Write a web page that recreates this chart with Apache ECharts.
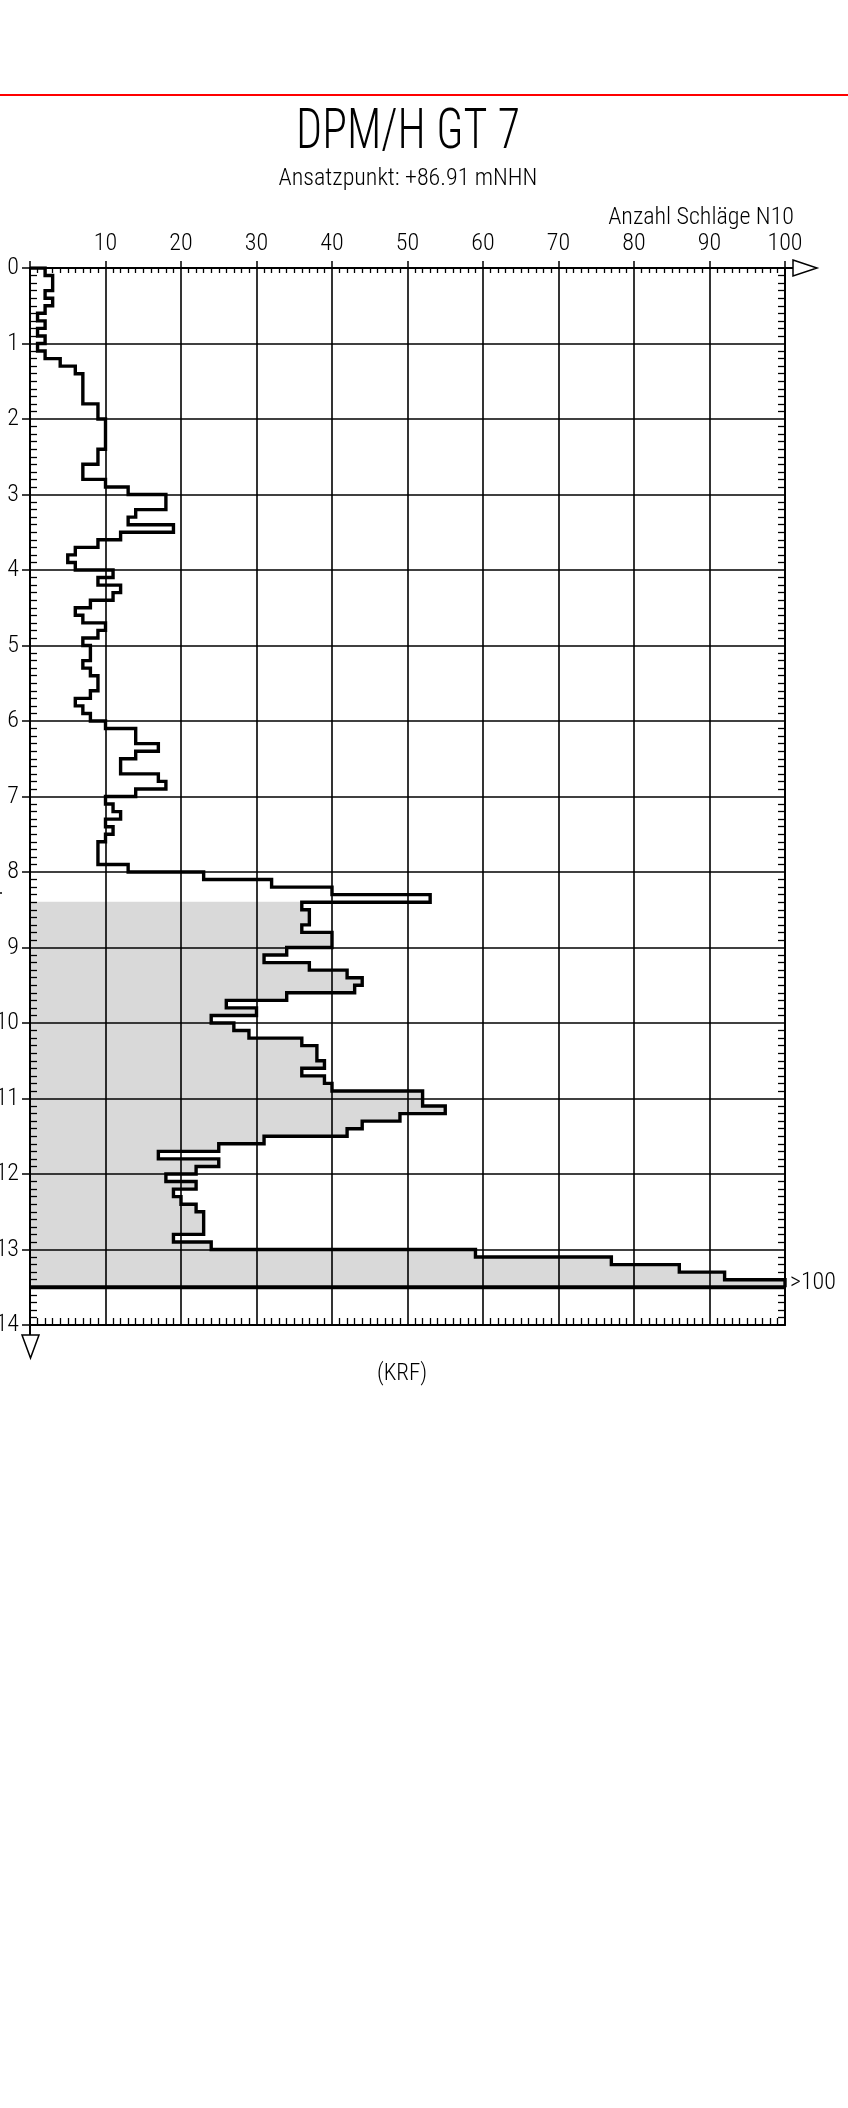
<!DOCTYPE html>
<html>
<head>
<meta charset="utf-8">
<script src="https://cdn.jsdelivr.net/npm/echarts@6/dist/echarts.min.js"></script>
<style>
  * { margin: 0; padding: 0; box-sizing: border-box; }
  html, body { width: 848px; height: 2108px; background: #fff; }
  #chart { width: 848px; height: 2108px; }
</style>
</head>
<body>
<div id="chart"></div>
<script>
  // Schlagzahlen N10 je 0,1 m ab Ansatzpunkt (0,0 m)
  const step = 0.1;
  const blows = [
    2, 3, 3, 2, 3, 2, 1, 2, 1, 2,          // 0 - 1 m
    1, 2, 4, 6, 7, 7, 7, 7, 9, 9,          // 1 - 2 m
    10, 10, 10, 10, 9, 9, 7, 7, 10, 13,    // 2 - 3 m
    18, 18, 14, 13, 19, 12, 9, 6, 5, 6,    // 3 - 4 m
    11, 9, 12, 11, 8, 6, 7, 10, 9, 7,      // 4 - 5 m
    8, 8, 7, 8, 9, 9, 8, 6, 7, 8,          // 5 - 6 m
    10, 14, 14, 17, 14, 12, 12, 17, 18, 14, // 6 - 7 m
    10, 11, 12, 10, 11, 10, 9, 9, 9, 13,   // 7 - 8 m
    23, 32, 40, 53, 36, 37, 37, 36, 40, 40, // 8 - 9 m
    34, 31, 37, 42, 44, 43, 34, 26, 30, 24, // 9 - 10 m
    27, 29, 36, 38, 38, 39, 36, 39, 40, 52, // 10 - 11 m
    52, 55, 49, 44, 42, 31, 25, 17, 25, 22, // 11 - 12 m
    18, 22, 19, 20, 22, 23, 23, 23, 19, 24, // 12 - 13 m
    59, 77, 86, 92, 100                    // 13 - 13,5 m
  ];
  const fillFrom = 8.4;   // grau hinterlegt ab
  const endDepth = 13.5;  // Endteufe
  const xLabels = ['', '10', '20', '30', '40', '50', '60', '70', '80', '90', '100'];
  const yLabels = ['0', '1', '2', '3', '4', '5', '6', '7', '8', '9', '10', '11', '12', '13', '14'];

  const FONT = "'Roboto Condensed', 'DejaVu Sans Condensed', sans-serif";

  // Treppenlinie
  const linePts = [[0, 0]];
  const fillData = [];
  blows.forEach(function (v, i) {
    const top = +(i * step).toFixed(1);
    const bot = +(top + step).toFixed(1);
    linePts.push([v, top], [v, bot]);
    if (top >= fillFrom - 1e-6) fillData.push([v, top]);
  });

  const myChart = echarts.init(document.getElementById('chart'), null, { renderer: 'canvas' });

  const baseX = { type: 'value', min: 0, max: 100, interval: 10, z: 1 };
  const baseY = { type: 'value', min: 0, max: 14, interval: 1, inverse: true, z: 1 };
  const noLine = { show: false, onZero: false };
  const labelFont = { color: '#000', fontFamily: FONT, fontWeight: 300, fontSize: 24 };

  const option = {
    animation: false,
    backgroundColor: '#fff',
    grid: { left: 30, top: 268, width: 755, height: 1057, containLabel: false, outerBoundsMode: 'none' },
    xAxis: [
      Object.assign({}, baseX, {
        position: 'top',
        axisLine: { show: true, onZero: false, lineStyle: { color: '#000', width: 2 } },
        axisTick: { show: true, length: 7, lineStyle: { color: '#000', width: 1.5 } },
        axisLabel: Object.assign({
          margin: 12,
          formatter: function (v) { return xLabels[Math.round(v / 10)]; }
        }, labelFont),
        splitLine: { show: true, lineStyle: { color: '#000', width: 1.6 } }
      }),
      Object.assign({}, baseX, {
        position: 'top',
        axisLine: noLine,
        axisTick: { show: false, inside: true },
        axisLabel: { show: false },
        splitLine: { show: false },
        minorTick: { show: true, splitNumber: 10, length: 5, lineStyle: { color: '#000', width: 1.3 } }
      }),
      Object.assign({}, baseX, {
        position: 'bottom',
        axisLine: { show: true, onZero: false, lineStyle: { color: '#000', width: 2 } },
        axisTick: { show: false, inside: true },
        axisLabel: { show: false },
        splitLine: { show: false },
        minorTick: { show: true, splitNumber: 10, length: 7, lineStyle: { color: '#000', width: 1.3 } }
      })
    ],
    yAxis: [
      Object.assign({}, baseY, {
        position: 'left',
        axisLine: { show: true, onZero: false, lineStyle: { color: '#000', width: 2 } },
        axisTick: { show: true, length: 8, lineStyle: { color: '#000', width: 1.5 } },
        axisLabel: Object.assign({
          margin: 11,
          formatter: function (v) { return yLabels[Math.round(v)]; }
        }, labelFont),
        splitLine: { show: true, lineStyle: { color: '#000', width: 1.6 } }
      }),
      Object.assign({}, baseY, {
        position: 'left',
        axisLine: noLine,
        axisTick: { show: false, inside: true },
        axisLabel: { show: false },
        splitLine: { show: false },
        minorTick: { show: true, splitNumber: 10, length: 7, lineStyle: { color: '#000', width: 1.3 } }
      }),
      Object.assign({}, baseY, {
        position: 'right',
        axisLine: { show: true, onZero: false, lineStyle: { color: '#000', width: 2 } },
        axisTick: { show: false, inside: true },
        axisLabel: { show: false },
        splitLine: { show: false },
        minorTick: { show: true, splitNumber: 10, length: 7, lineStyle: { color: '#000', width: 1.3 } }
      })
    ],
    series: [
      {
        // grauer Bereich links der Kurve
        type: 'custom',
        xAxisIndex: 0, yAxisIndex: 0, z: 0, silent: true,
        renderItem: function (params, api) {
          const v = api.value(0), d = api.value(1);
          const a = api.coord([0, d]);
          const b = api.coord([v, d + step]);
          return {
            type: 'rect',
            shape: { x: a[0], y: a[1] - 0.4, width: b[0] - a[0], height: b[1] - a[1] + 0.8 },
            style: { fill: '#d9d9d9' }
          };
        },
        data: fillData
      },
      {
        type: 'line',
        xAxisIndex: 0, yAxisIndex: 0, z: 3,
        data: linePts,
        symbol: 'none',
        lineStyle: { color: '#000', width: 3.4, join: 'miter' }
      },
      {
        // Endteufe
        type: 'line',
        xAxisIndex: 0, yAxisIndex: 0, z: 3,
        data: [[0, endDepth], [100, endDepth]],
        symbol: 'none',
        lineStyle: { color: '#000', width: 4 }
      }
    ],
    graphic: [
      { type: 'line', shape: { x1: 0, y1: 95, x2: 848, y2: 95 }, style: { stroke: '#ff0000', lineWidth: 2 } },
      { type: 'text', x: 408, y: 162, scaleX: 0.82,
        style: { text: 'DPM/H GT 7', x: 0, y: 0, align: 'center', verticalAlign: 'bottom', fontFamily: FONT, fontWeight: 300, fontSize: 56, fill: '#000' } },
      { type: 'text', x: 408, y: 191,
        style: { text: 'Ansatzpunkt: +86.91 mNHN', x: 0, y: 0, align: 'center', verticalAlign: 'bottom', fontFamily: FONT, fontWeight: 300, fontSize: 24, fill: '#000' } },
      { type: 'text', x: 794, y: 230,
        style: { text: 'Anzahl Schläge N10', x: 0, y: 0, align: 'right', verticalAlign: 'bottom', fontFamily: FONT, fontWeight: 300, fontSize: 24, fill: '#000' } },
      { type: 'text', x: 790, y: 1283,
        style: { text: '>100', x: 0, y: 0, align: 'left', verticalAlign: 'middle', fontFamily: FONT, fontWeight: 300, fontSize: 24, fill: '#000' } },
      { type: 'text', x: 402, y: 1374,
        style: { text: '(KRF)', x: 0, y: 0, align: 'center', verticalAlign: 'middle', fontFamily: FONT, fontWeight: 300, fontSize: 23, fill: '#000' } },
      // Randmarke links
      { type: 'line', shape: { x1: 0, y1: 893, x2: 2, y2: 893 }, style: { stroke: '#000', lineWidth: 1.5 } },
      // Pfeile
      { type: 'polyline', shape: { points: [[785, 268], [793, 268]] }, style: { stroke: '#000', lineWidth: 2 } },
      { type: 'polygon', shape: { points: [[793, 260], [817, 268], [793, 276]] }, style: { stroke: '#000', fill: '#fff', lineWidth: 1.5 } },
      { type: 'polyline', shape: { points: [[30, 1325], [30, 1335]] }, style: { stroke: '#000', lineWidth: 2 } },
      { type: 'polygon', shape: { points: [[22, 1335], [39, 1335], [30.5, 1358]] }, style: { stroke: '#000', fill: '#fff', lineWidth: 1.5 } }
    ]
  };

  myChart.setOption(option);
</script>
</body>
</html>
